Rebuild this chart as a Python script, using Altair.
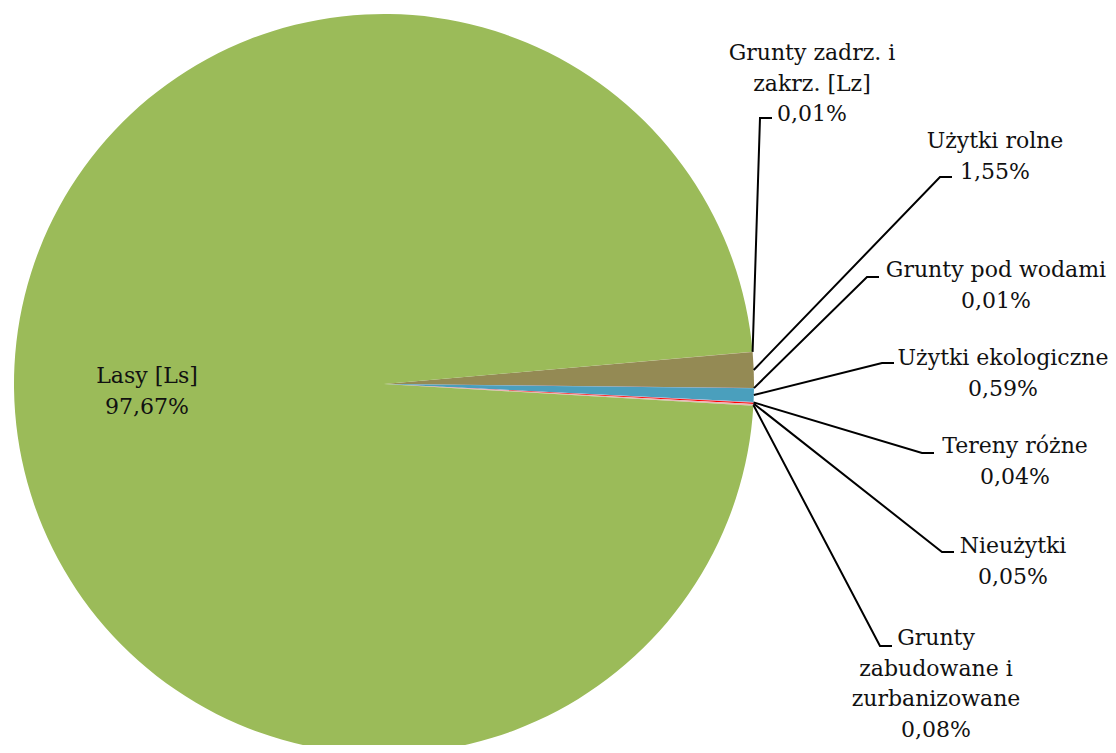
import math
import altair as alt
import pandas as pd

# ---- data ----
categories = [
    "Grunty zadrz. i zakrz. [Lz]",
    "Użytki rolne",
    "Grunty pod wodami",
    "Użytki ekologiczne",
    "Tereny różne",
    "Nieużytki",
    "Grunty zabudowane i zurbanizowane",
    "Lasy [Ls]",
]
values = [0.01, 1.55, 0.01, 0.59, 0.04, 0.05, 0.08, 97.67]
label_lines = [
    ["Grunty zadrz. i", "zakrz. [Lz]"],
    ["Użytki rolne"],
    ["Grunty pod wodami"],
    ["Użytki ekologiczne"],
    ["Tereny różne"],
    ["Nieużytki"],
    ["Grunty", "zabudowane i", "zurbanizowane"],
    ["Lasy [Ls]"],
]

# ---- styles / layout ----
colors = ["#C0504D", "#948A54", "#8064A2", "#4A9FBD",
          "#B3A2C7", "#FF0000", "#E6B9B8", "#9BBB59"]
OFF = 8                      # page margin
CX, CY, R = 384, 384, 370    # pie centre / radius (page px)
START_DEG = 85.0             # angle of first slice (clockwise from 12 o'clock)
FONT = "DejaVu Serif"
FS = 22
LH = 30.5

# label anchors: (centre x, first baseline y) and leader elbow (x, y), page px
label_pos = [(812, 60), (995, 148), (996, 277), (1003, 365),
             (1015, 453), (1013, 553), (936, 645), (147, 383)]
elbows = [(760, 118), (940, 177), (867, 277), (882, 363),
          (922, 453), (942, 552), (880, 646), None]

def fmt(v):
    return f"{v:.2f}".replace(".", ",") + "%"

total = sum(values)
pie_df = pd.DataFrame({"cat": categories, "value": values,
                       "idx": list(range(len(values)))})

# leader lines from slice mid-angle on the rim
rows = []
cum = 0.0
for i, v in enumerate(values):
    mid = START_DEG + (cum + v / 2) / total * 360.0
    cum += v
    if elbows[i] is None:
        continue
    a = math.radians(mid)
    ex, ey = CX + R * math.sin(a), CY - R * math.cos(a)
    bx, by = elbows[i]
    pts = [(ex, ey), (bx, by), (bx + 12, by)]
    for k, (px, py) in enumerate(pts):
        rows.append({"lbl": i, "k": k, "px": px - OFF, "py": py - OFF})
lead_df = pd.DataFrame(rows)

txt_rows = []
for i, v in enumerate(values):
    x, y = label_pos[i]
    txt_rows.append({"txt": "\n".join(label_lines[i] + [fmt(v)]),
                     "x": x - OFF, "y": y - OFF})
txt_df = pd.DataFrame(txt_rows)

start = math.radians(START_DEG)

pie = alt.Chart(pie_df).mark_arc(radius=R, strokeWidth=0).encode(
    theta=alt.Theta("value:Q", stack=True,
                    scale=alt.Scale(range=[start, start + 2 * math.pi])),
    order=alt.Order("idx:Q"),
    color=alt.Color("cat:N", scale=alt.Scale(domain=categories, range=colors),
                    legend=None),
    x=alt.value(CX - OFF),
    y=alt.value(CY - OFF),
)

leaders = alt.Chart(lead_df).mark_line(color="black", strokeWidth=2).encode(
    x=alt.X("px:Q", scale=None, axis=None),
    y=alt.Y("py:Q", scale=None, axis=None),
    detail="lbl:N",
    order="k:Q",
)

texts = alt.Chart(txt_df).mark_text(
    font=FONT, fontSize=FS, lineBreak="\n", lineHeight=LH,
    align="center", baseline="alphabetic", color="#111111",
).encode(
    x=alt.X("x:Q", scale=None, axis=None),
    y=alt.Y("y:Q", scale=None, axis=None),
    text="txt:N",
)

chart = alt.layer(pie, leaders, texts).properties(
    width=1100, height=737, padding=0,
    autosize=alt.AutoSizeParams(type="none"),
).configure_view(stroke=None)

chart.save("out.html", embed_options={"renderer": "svg", "actions": False})
